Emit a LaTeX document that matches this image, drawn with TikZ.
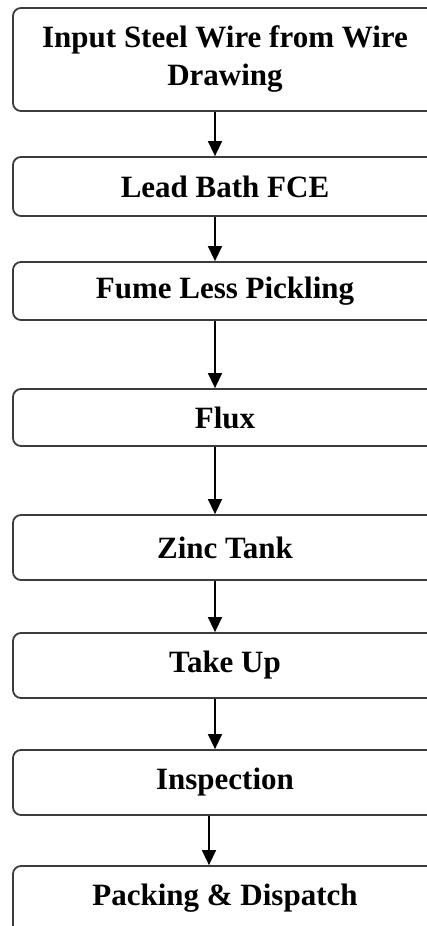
\documentclass[tikz,border=0pt]{standalone}
\usepackage{fontspec}
\setmainfont{Liberation Serif}
\usetikzlibrary{arrows.meta}

\definecolor{edge}{HTML}{3C3C3C}

\tikzset{
  stage/.style={draw=edge, line width=1.8pt, rounded corners=8pt, fill=white,
    minimum width=424pt, inner sep=0pt, align=center,
    font=\fontsize{31}{38}\selectfont\bfseries, text=black},
  flow/.style={line width=1.5pt, draw=black,
    -{Triangle[width=14pt,length=15pt]}, shorten >=0pt}
}

\begin{document}
\begin{tikzpicture}[x=1pt,y=-1pt]
  \clip (0,0) rectangle (427,926);
  \fill[white] (0,0) rectangle (427,926);

  % process stages, left edge at x=13, centred at x=225
  \node[stage, minimum height=103pt] (wire)    at (225, 59.5) {Input Steel Wire from Wire\\Drawing};
  \node[stage, minimum height=59pt]  (lead)    at (225,186.5) {Lead Bath FCE};
  \node[stage, minimum height=58pt]  (pickle)  at (225,291)   {Fume Less Pickling};
  \node[stage, minimum height=57pt]  (flux)    at (225,417.5) {Flux};
  \node[stage, minimum height=65pt]  (zinc)    at (225,547.5) {Zinc Tank};
  \node[stage, minimum height=65pt]  (takeup)  at (225,665.5) {Take Up};
  \node[stage, minimum height=65pt]  (inspect) at (225,782.5) {Inspection};
  \node[stage, minimum height=140pt, text depth=82pt] (pack) at (225,936) {Packing \& Dispatch};

  % connectors
  \draw[flow] ([xshift=-10pt]wire.south)    -- ([xshift=-10pt]lead.north);
  \draw[flow] ([xshift=-10pt]lead.south)    -- ([xshift=-10pt]pickle.north);
  \draw[flow] ([xshift=-10pt]pickle.south)  -- ([xshift=-10pt]flux.north);
  \draw[flow] ([xshift=-10pt]flux.south)    -- ([xshift=-10pt]zinc.north);
  \draw[flow] ([xshift=-10pt]zinc.south)    -- ([xshift=-10pt]takeup.north);
  \draw[flow] ([xshift=-10pt]takeup.south)  -- ([xshift=-10pt]inspect.north);
  \draw[flow] ([xshift=-16pt]inspect.south) -- ([xshift=-16pt]pack.north);
\end{tikzpicture}
\end{document}
